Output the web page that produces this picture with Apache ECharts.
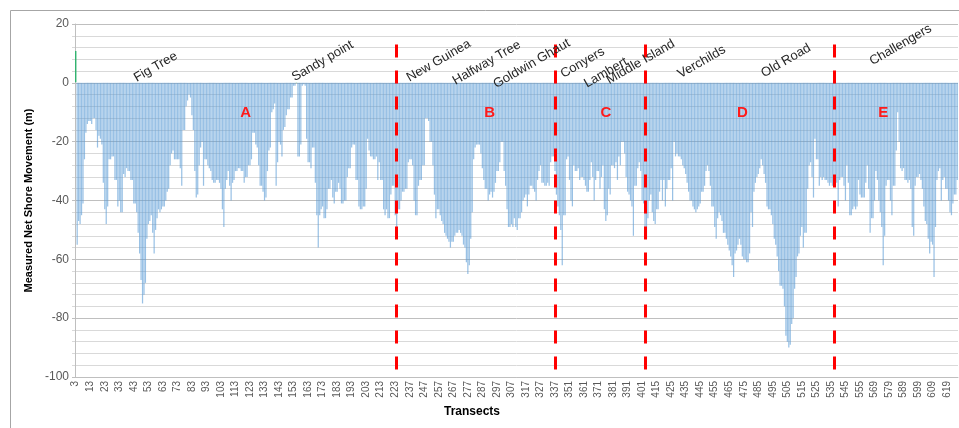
<!DOCTYPE html>
<html>
<head>
<meta charset="utf-8">
<script src="https://cdn.jsdelivr.net/npm/echarts@6/dist/echarts.min.js"></script>
<style>
  html, body { margin: 0; padding: 0; background: #fff; }
  #shoreChart { width: 959px; height: 428px; }
</style>
</head>
<body>
<div id="shoreChart"></div>
<script>
  // transect numbers run in blocks, a few numbers are skipped between blocks
  var transectRuns = [[3, 224], [229, 338], [343, 402], [407, 556], [561, 626]]

  // measured net shore movement (m), one value per transect, block by block
  var run1Values = [
    11, -55, -47, -48, -45, -41, -26, -17, -14, -13,
    -13, -14, -12, -12, -16, -22, -18, -19, -21, -34,
    -43, -48, -42, -26, -26, -25, -25, -33, -33, -42,
    -40, -44, -44, -31, -32, -29, -30, -30, -33, -33,
    -41, -41, -44, -51, -58, -67, -75, -72, -68, -53,
    -48, -47, -45, -51, -58, -50, -46, -43, -44, -43,
    -42, -42, -40, -37, -36, -28, -24, -23, -26, -26,
    -26, -26, -29, -35, -16, -16, -8, -6, -4, -5,
    -11, -16, -30, -39, -38, -28, -22, -20, -35, -26,
    -26, -28, -29, -30, -33, -34, -34, -33, -33, -34,
    -36, -43, -49, -36, -33, -30, -35, -40, -34, -33,
    -30, -30, -29, -29, -30, -30, -34, -32, -32, -28,
    -28, -26, -17, -17, -21, -22, -28, -35, -35, -37,
    -40, -39, -30, -23, -22, -10, -9, -7, -35, -27,
    -20, -21, -25, -16, -15, -11, -9, -9, -5, -5,
    -1, -1, 0.5, -25, -25, -21, -1, -0.5, -1, -19,
    -27, -27, -29, -22, -22, -34, -45, -56, -45, -43,
    -42, -46, -46, -43, -36, -36, -33, -39, -41, -37,
    -37, -34, -36, -41, -41, -40, -40, -32, -29, -29,
    -22, -21, -21, -33, -33, -42, -43, -43, -42, -42,
    -36, -19, -23, -25, -25, -26, -26, -25, -33, -27,
    -33, -33, -43, -45, -43, -46, -46, -38, -35, -35,
    -45, -50
  ]
  var run2Values = [
    -43, -43, -40, -37, -37, -36, -36, -27,
    -26, -26, -28, -40, -45, -45, -35, -33, -33, -28,
    -28, -12, -12, -13,
    -20, -20, -28, -38, -46, -43,
    -43, -45, -47, -48, -51, -52, -53, -54, -56, -54,
    -54, -52, -51, -51, -50, -51, -52, -55, -56, -61,
    -65, -62, -53, -44, -26, -22, -21, -21, -21, -24,
    -29, -33, -36, -36, -40, -38, -37, -39, -37, -34,
    -30, -30, -27, -20, -20, -30, -35, -43, -49, -49,
    -48, -49, -46, -49, -50, -46, -46, -44, -40, -39,
    -38, -42, -38, -35, -35, -36, -37, -40, -33, -30,
    -28, -34, -34, -35, -35, -34, -35, -27, -25, -25,
    -30, -38
  ]
  var run3Values = [
    -42, -45, -50, -62, -45, -45, -26, -25,
    -33, -40, -42, -28, -30, -30, -29, -33, -32, -32,
    -33, -35, -37, -37, -33, -27, -32, -40, -33, -30,
    -30, -36, -32, -28, -43, -47, -45, -36, -38, -28,
    -28, -29, -27, -33, -25, -28, -20, -20, -24, -32,
    -37, -38, -40, -42, -52, -35, -35, -29, -27, -30,
    -40, -41
  ]
  var run4Values = [
    -53, -53, -46, -40, -38, -44, -47, -48,
    -43, -43, -37, -33, -40, -33, -42, -36, -33, -33,
    -29, -40, -20, -25, -24, -25, -25, -26, -28, -29,
    -31, -34, -37, -40, -40, -42, -43, -44, -43, -42,
    -41, -37, -37, -35, -30, -28, -30, -35, -42, -42,
    -49, -53, -46, -44, -45, -47, -51, -51, -53, -55,
    -57, -59, -62, -66, -58, -57, -55, -53, -55, -59,
    -60, -60, -61, -61, -58, -44, -49, -37, -34, -32,
    -31, -29, -26, -28, -31, -34, -42, -43, -43, -45,
    -48, -53, -55, -59, -64, -69, -69, -70, -76, -86,
    -88, -90, -89, -82, -80, -70, -66, -59, -58, -52,
    -49, -56, -51, -51, -36, -28, -27, -32, -39, -19,
    -26, -26, -35, -32, -33, -32, -33, -33, -34, -35,
    -34, -35, -35, -35, -34, -42, -33, -32, -32, -35,
    -40, -28, -34, -45, -45, -43, -42, -43, -42, -33,
    -38, -39
  ]
  var run5Values = [
    -39, -39, -34, -28, -36, -51, -46, -46,
    -40, -30, -33, -40, -44, -49, -62, -52, -35, -33,
    -33, -40, -45, -35, -35, -23, -10, -20, -29, -30,
    -29, -33, -33, -34, -33, -36, -49, -52, -35, -32,
    -32, -31, -33, -36, -42, -47, -48, -53, -58, -54,
    -55, -66, -49, -33, -30, -29, -40, -33, -32, -36,
    -36, -40, -44, -45, -41, -38, -38, -33
  ]

  var yTicks = [-100, -80, -60, -40, -20, 0, 20]

  // section boundaries (category index) and section letters
  var dividerIndex = [221, 330, 392, 522]
  var sectionLetters = ['A', 'B', 'C', 'D', 'E']
  var sectionAt = [[117, -10.2], [285, -10.2], [365, -10.2], [459, -10.2], [556, -10.2]]

  // place names along the coast
  var siteNames = ['Fig Tree', 'Sandy point', 'New Guinea', 'Halfway Tree', 'Goldwin Ghaut', 'Conyers',
    'Lambert', 'Middle Island', 'Verchilds', 'Old Road', 'Challengers']
  var siteAt = [[55, 5.4], [170, 7.4], [250, 7.5], [283, 6.8], [314, 6.5], [349, 6.8],
    [365, 3.4], [389, 7.1], [431, 7.1], [489, 7.5], [568, 12.9]]

  var transects = []
  transectRuns.forEach(function (r) {
    for (var t = r[0]; t <= r[1]; t++) transects.push(String(t))
  })
  var movement = run1Values.concat(run2Values, run3Values, run4Values, run5Values)

  // positive movement is drawn green, like the first transect
  var barData = movement.map(function (v) {
    return v > 0 ? { value: v, itemStyle: { color: '#2FB36E', borderColor: '#2FB36E', borderWidth: 1.4 } } : v
  })

  var pointData = []
  sectionLetters.forEach(function (s, k) {
    pointData.push({
      name: s, coord: sectionAt[k],
      label: { fontSize: 15, fontWeight: 'bold', color: '#FF1A1A' }
    })
  })
  siteNames.forEach(function (s, k) {
    pointData.push({
      name: s, coord: siteAt[k],
      label: { fontSize: 13, color: '#262626', rotate: 30 }
    })
  })

  var myChart = echarts.init(document.getElementById('shoreChart'))
  var option = {
    animation: false,
    textStyle: { fontFamily: 'Liberation Sans' },
    graphic: [
      {
        type: 'rect', z: -10,
        shape: { x: 10.5, y: 10.5, width: 1000, height: 1000 },
        style: { fill: 'none', stroke: '#A6A6A6', lineWidth: 1 }
      },
      {
        type: 'text', x: 472, y: 412,
        style: { text: 'Transects', font: 'bold 12px Liberation Sans', fill: '#000', align: 'center', verticalAlign: 'middle' }
      }
    ],
    grid: { left: 75, top: 24, width: 883, height: 353 },
    xAxis: {
      type: 'category',
      data: transects,
      axisLine: { onZero: false, lineStyle: { color: '#BFBFBF' } },
      axisTick: { show: false },
      axisLabel: { interval: 9, rotate: 90, fontSize: 10, color: '#595959', margin: 4 }
    },
    yAxis: {
      type: 'value',
      min: yTicks[0],
      max: yTicks[yTicks.length - 1],
      interval: 20,
      name: 'Measured Net Shore Movement (m)',
      nameLocation: 'middle',
      nameGap: 36,
      nameTextStyle: { fontWeight: 'bold', fontSize: 11, color: '#000' },
      axisLine: { show: true, lineStyle: { color: '#BFBFBF' } },
      axisTick: { show: true, length: 3, lineStyle: { color: '#BFBFBF' } },
      minorTick: { show: true, splitNumber: 5, length: 3, lineStyle: { color: '#D9D9D9' } },
      axisLabel: { fontSize: 12, color: '#595959', margin: 6 },
      splitLine: { lineStyle: { color: '#BFBFBF' } },
      minorSplitLine: { show: true, lineStyle: { color: '#D9D9D9' } }
    },
    series: [{
      type: 'bar',
      data: barData,
      barCategoryGap: '15%',
      itemStyle: { color: 'rgba(91,155,213,0.62)' },
      markLine: {
        symbol: 'none',
        silent: true,
        label: { show: false },
        lineStyle: { color: '#FF0000', type: [13, 13], width: 3 },
        data: dividerIndex.map(function (i) {
          return [{ coord: [i, 13] }, { coord: [i, -98.5] }]
        })
      },
      markPoint: {
        symbolSize: 0,
        silent: true,
        label: { show: true, position: 'inside', formatter: '{b}' },
        data: pointData
      }
    }]
  }
  option && myChart.setOption(option)
  window.addEventListener('resize', myChart.resize)
</script>
</body>
</html>
